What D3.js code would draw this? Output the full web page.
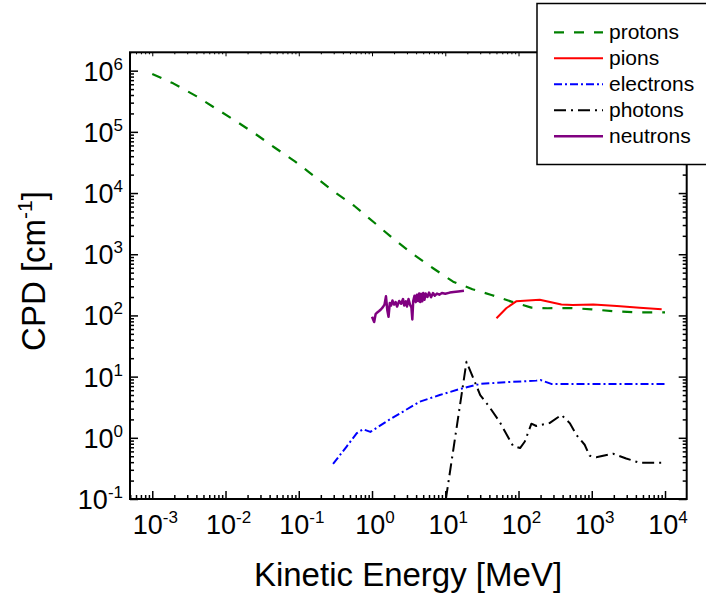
<!DOCTYPE html>
<html>
<head>
<meta charset="utf-8">
<script src="https://cdn.jsdelivr.net/npm/d3@7"></script>
<style>
  html, body { margin: 0; padding: 0; background: #fff; }
  svg { display: block; font-family: "Liberation Sans", Arial, sans-serif; }
</style>
</head>
<body>
<svg id="chart" width="706" height="598"></svg>
<script>
// ---- data (E in MeV, CPD in cm^-1) ----
const protonE = [0.001, 0.00193, 0.00404, 0.0074, 0.01387, 0.02576, 0.04721, 0.0885, 0.166, 0.304, 0.570, 1.07, 1.94, 3.64, 6.82, 12.8, 23.5, 42.7, 80, 150, 250, 500, 1000, 2000, 4000, 10000];
const protonV = [8.8e5, 6.2e5, 3.8e5, 2.4e5, 1.5e5, 9.2e4, 5.5e4, 3.3e4, 1.85e4, 1.05e4, 6.2e3, 3.3e3, 1.8e3, 1.0e3, 590, 356, 268, 216, 168, 134, 131, 132, 126, 117, 112, 112];

const pionE = [50, 68, 93, 195, 385, 550, 1050, 2200, 4500, 9000];
const pionV = [90, 131, 170, 180, 151, 148, 151, 143, 134, 126];

const electronE = [0.294, 0.45, 0.62, 0.757, 0.95, 1.75, 4.5, 8.4, 16, 30, 68, 175, 200, 280, 10000];
const electronV = [0.375, 0.72, 1.19, 1.38, 1.25, 2.0, 3.9, 5.0, 6.3, 7.6, 8.1, 8.6, 8.8, 7.6, 7.6];

const photonE = [10.2, 19.5, 30, 40, 55, 84, 105, 122, 150, 175, 265, 385, 500, 620, 800, 935, 1150, 1950, 2950, 4500, 10000];
const photonV = [0.1, 17.5, 5.0, 3.2, 1.84, 0.74, 0.68, 0.87, 1.7, 1.56, 1.74, 2.37, 1.74, 1.11, 0.77, 0.51, 0.48, 0.55, 0.46, 0.39, 0.39];

const neutronE = [1.00, 1.07, 1.12, 1.18, 1.25, 1.32, 1.40, 1.48, 1.55, 1.62, 1.68, 1.75, 1.82, 1.90, 2.00, 2.10, 2.20, 2.35, 2.50, 2.65, 2.75, 2.90, 3.00, 3.15, 3.30, 3.45, 3.55, 3.65, 3.80, 3.95, 4.10, 4.25, 4.40, 4.55, 4.70, 4.85, 5.00, 5.20, 5.40, 5.70, 6.00, 6.40, 6.80, 7.20, 7.70, 8.30, 9.00, 10.0, 11.5, 13.0, 15.0, 18.0];
const neutronV = [95, 78, 105, 112, 118, 125, 135, 150, 205, 120, 95, 160, 145, 175, 150, 165, 140, 172, 155, 185, 145, 170, 140, 185, 150, 135, 86, 172, 210, 165, 218, 172, 228, 165, 225, 170, 232, 180, 228, 200, 236, 198, 232, 210, 228, 218, 232, 226, 236, 242, 246, 252];

const seriesNames = ["protons", "pions", "electrons", "photons", "neutrons"];
const seriesColors = ["#008000", "#ff0000", "#0000ff", "#000000", "#800080"];
const seriesDash = ["10,10", null, "8,3,2,3", "12,5,2,5", null];
const seriesWidth = [2.2, 2, 2, 2, 2.5];

const xDecades = [-3, -2, -1, 0, 1, 2, 3, 4];
const yDecades = [-1, 0, 1, 2, 3, 4, 5, 6];
const xTitle = "Kinetic Energy [MeV]";
const yTitleMain = "CPD [cm";
const yTitleSup = "-1";
const yTitleEnd = "]";

// ---- layout ----
const L = 130, R = 686.7, T = 52.3, B = 499;
const svg = d3.select("#chart");

const x = d3.scaleLog().domain([Math.pow(10, -3.304), Math.pow(10, 4.296)]).range([L, R]);
const y = d3.scaleLog().domain([0.1, Math.pow(10, 6.3)]).range([B, T]);

const xMajor = xDecades.map(d => Math.pow(10, d));
const yMajor = yDecades.map(d => Math.pow(10, d));
function minorTicks(scale) {
  const [a, b] = scale.domain();
  const out = [];
  for (let e = Math.floor(Math.log10(a)) - 1; e <= Math.ceil(Math.log10(b)); e++) {
    for (let m = 2; m <= 9; m++) {
      const v = m * Math.pow(10, e);
      if (v >= a && v <= b) out.push(v);
    }
  }
  return out;
}
const xMinor = minorTicks(x);
const yMinor = minorTicks(y);

// clip
svg.append("defs").append("clipPath").attr("id", "clip")
  .append("rect").attr("x", L).attr("y", T).attr("width", R - L).attr("height", B - T);

// ---- series ----
const seriesData = [
  [protonE, protonV], [pionE, pionV], [electronE, electronV], [photonE, photonV], [neutronE, neutronV]
];
const line = d3.line().x(d => x(d[0])).y(d => y(d[1]));
const plot = svg.append("g").attr("clip-path", "url(#clip)");
seriesData.forEach(([es, vs], i) => {
  const pts = es.map((e, j) => [e, vs[j]]);
  plot.append("path")
    .datum(pts)
    .attr("d", line)
    .attr("fill", "none")
    .attr("stroke", seriesColors[i])
    .attr("stroke-width", seriesWidth[i])
    .attr("stroke-linejoin", "round")
    .attr("stroke-dasharray", seriesDash[i]);
});

// ---- axes ----
function styleAxis(g, w) {
  g.select(".domain").remove();
  g.selectAll(".tick line").attr("stroke", "#000").attr("stroke-width", w);
  g.selectAll(".tick text").remove();
}
// bottom
svg.append("g").attr("transform", `translate(0,${B})`)
  .call(d3.axisBottom(x).tickValues(xMajor).tickSize(-8).tickFormat(""))
  .call(g => styleAxis(g, 1.5));
svg.append("g").attr("transform", `translate(0,${B})`)
  .call(d3.axisBottom(x).tickValues(xMinor).tickSize(-4).tickFormat(""))
  .call(g => styleAxis(g, 1.5));
// top
svg.append("g").attr("transform", `translate(0,${T})`)
  .call(d3.axisTop(x).tickValues(xMajor).tickSize(-4).tickFormat(""))
  .call(g => styleAxis(g, 1));
svg.append("g").attr("transform", `translate(0,${T})`)
  .call(d3.axisTop(x).tickValues(xMinor).tickSize(-2).tickFormat(""))
  .call(g => styleAxis(g, 1));
// left
svg.append("g").attr("transform", `translate(${L},0)`)
  .call(d3.axisLeft(y).tickValues(yMajor).tickSize(-8).tickFormat(""))
  .call(g => styleAxis(g, 1.5));
svg.append("g").attr("transform", `translate(${L},0)`)
  .call(d3.axisLeft(y).tickValues(yMinor).tickSize(-4).tickFormat(""))
  .call(g => styleAxis(g, 1.5));
// right
svg.append("g").attr("transform", `translate(${R},0)`)
  .call(d3.axisRight(y).tickValues(yMajor).tickSize(-8).tickFormat(""))
  .call(g => styleAxis(g, 1.5));
svg.append("g").attr("transform", `translate(${R},0)`)
  .call(d3.axisRight(y).tickValues(yMinor).tickSize(-4).tickFormat(""))
  .call(g => styleAxis(g, 1.5));

// frame
svg.append("rect").attr("x", L).attr("y", T).attr("width", R - L).attr("height", B - T)
  .attr("fill", "none").attr("stroke", "#000").attr("stroke-width", 2);

// tick labels
function expLabel(sel, e) {
  sel.append("tspan").text("10");
  sel.append("tspan").attr("dy", -11).attr("font-size", 17).text(String(e));
}
xDecades.forEach(e => {
  const t = svg.append("text").attr("x", x(Math.pow(10, e)) + 3).attr("y", B + 35)
    .attr("text-anchor", "middle").attr("font-size", 27).attr("fill", "#000");
  expLabel(t, e);
});
yDecades.forEach(e => {
  const t = svg.append("text").attr("x", 123).attr("y", y(Math.pow(10, e)) + 10)
    .attr("text-anchor", "end").attr("font-size", 27).attr("fill", "#000");
  expLabel(t, e);
});

// axis titles
svg.append("text").attr("x", 408).attr("y", 586).attr("text-anchor", "middle")
  .attr("font-size", 33).attr("fill", "#000").text(xTitle);
const yt = svg.append("text").attr("transform", "translate(45,271) rotate(-90)")
  .attr("text-anchor", "middle").attr("font-size", 33).attr("fill", "#000");
yt.append("tspan").text(yTitleMain);
yt.append("tspan").attr("dy", -13).attr("font-size", 21).text(yTitleSup);
yt.append("tspan").attr("dy", 13).text(yTitleEnd);

// ---- legend ----
const lg = svg.append("g");
lg.append("rect").attr("x", 537).attr("y", 3.5).attr("width", 180).attr("height", 161)
  .attr("fill", "#fff").attr("stroke", "#000").attr("stroke-width", 1.5);
seriesNames.forEach((n, i) => {
  const cy = 32.3 + i * 26;
  lg.append("line").attr("x1", 554).attr("x2", 603).attr("y1", cy).attr("y2", cy)
    .attr("stroke", seriesColors[i]).attr("stroke-width", seriesWidth[i])
    .attr("stroke-dasharray", seriesDash[i]);
  lg.append("text").attr("x", 609).attr("y", cy + 7).attr("font-size", 21).attr("fill", "#000").text(n);
});
</script>
</body>
</html>
